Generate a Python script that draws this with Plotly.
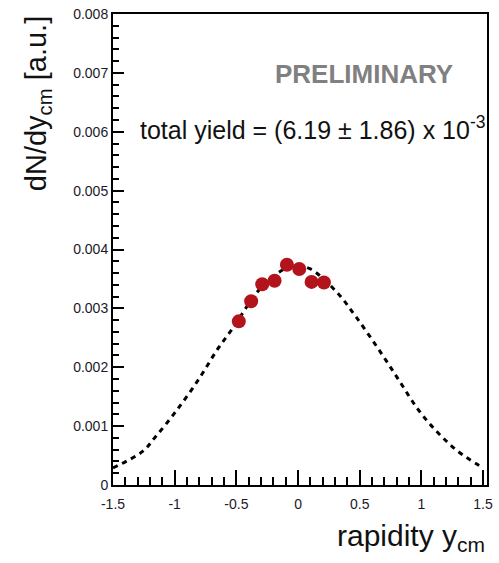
import plotly.graph_objects as go

# measured data points
x_data = [-0.48, -0.38, -0.29, -0.19, -0.09, 0.01, 0.11, 0.21]
y_data = [0.00278, 0.00312, 0.00341, 0.00347, 0.00374, 0.00367, 0.00345, 0.00344]

# fit curve
x_curve = [-1.5, -1.26, -1.155, -0.994, -0.81, -0.648, -0.54, -0.3, -0.1, 0.0,
           0.1, 0.312, 0.472, 0.658, 0.818, 0.978, 1.138, 1.298, 1.5]
y_curve = [0.00029, 0.00057, 0.00082, 0.00124, 0.00178, 0.00232, 0.00263, 0.00335,
           0.00368, 0.00372, 0.00367, 0.00328, 0.00285, 0.00229, 0.00178, 0.00127,
           0.00088, 0.00057, 0.00029]

x_tickvals = [-1.5, -1, -0.5, 0, 0.5, 1, 1.5]
x_ticktext = ["-1.5", "-1", "-0.5", "0", "0.5", "1", "1.5"]
y_tickvals = [0, 0.001, 0.002, 0.003, 0.004, 0.005, 0.006, 0.007, 0.008]
y_ticktext = ["0", "0.001", "0.002", "0.003", "0.004", "0.005", "0.006", "0.007", "0.008"]

fig = go.Figure()
fig.add_trace(go.Scatter(x=x_curve, y=y_curve, mode="lines", line_shape="spline",
                         line=dict(color="black", width=3, dash="5px,5px"),
                         hoverinfo="skip", showlegend=False))
fig.add_trace(go.Scatter(x=x_data, y=y_data, mode="markers",
                         marker=dict(color="#b3141b", size=14),
                         showlegend=False))

font_fam = "Liberation Sans, Arial, sans-serif"
fig.update_layout(
    width=499, height=563,
    margin=dict(l=113, r=6, t=13, b=78),
    plot_bgcolor="white", paper_bgcolor="white",
    font=dict(family=font_fam, color="#1a1a1a"),
    xaxis=dict(range=[-1.5, 1.532], showgrid=False, zeroline=False,
               showline=True, linecolor="black", linewidth=2, mirror=True,
               ticks="inside", ticklen=15, tickwidth=1.5, tickcolor="black",
               tickvals=x_tickvals, ticktext=x_ticktext, ticklabelstandoff=5,
               tickfont=dict(size=14, color="#1a1a2a"),
               minor=dict(ticks="inside", ticklen=8, dtick=0.1, tick0=0,
                          tickcolor="black", tickwidth=1.5, showgrid=False)),
    yaxis=dict(range=[0, 0.008], showgrid=False, zeroline=False,
               showline=True, linecolor="black", linewidth=2, mirror=True,
               ticks="inside", ticklen=11, tickwidth=1.5, tickcolor="black",
               tickvals=y_tickvals, ticktext=y_ticktext,
               tickfont=dict(size=14, color="#1a1a2a"),
               minor=dict(ticks="inside", ticklen=6, dtick=0.0002, tick0=0,
                          tickcolor="black", tickwidth=1.5, showgrid=False)),
    annotations=[
        dict(text="<b>PRELIMINARY</b>", xref="paper", yref="paper",
             x=0.67, y=0.873, xanchor="center", yanchor="middle", showarrow=False,
             font=dict(size=26, color="#808080", family=font_fam)),
        dict(text="total yield = (6.19 ± 1.86) x 10<sup>-3</sup>", xref="paper", yref="paper",
             x=1.0, y=0.758, xanchor="right", yanchor="middle", showarrow=False,
             font=dict(size=25, color="#111111", family=font_fam)),
        dict(text="dN/dy<sub>cm</sub> [a.u.]", xref="paper", yref="paper",
             x=-0.2, y=0.809, xanchor="center", yanchor="middle", textangle=-90,
             showarrow=False,
             font=dict(size=29, color="#111111", family=font_fam)),
        dict(text="rapidity y<sub>cm</sub>", xref="paper", yref="paper",
             x=1.0, y=-0.111, xanchor="right", yanchor="middle", showarrow=False,
             font=dict(size=30, color="#111111", family=font_fam)),
    ],
)
fig.write_html("out.html")
